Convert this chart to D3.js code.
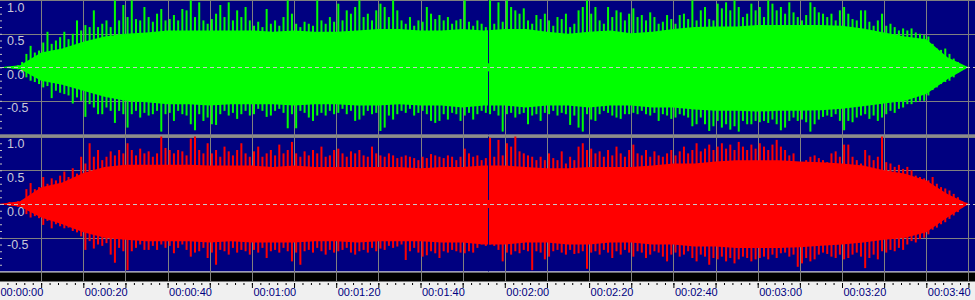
<!DOCTYPE html>
<html>
<head>
<meta charset="utf-8">
<script src="https://cdn.jsdelivr.net/npm/d3@7"></script>
<style>
  body { margin: 0; background: #f0f0f0; }
  svg { display: block; }
</style>
</head>
<body>
<div id="wave"></div>
<script>
// peak level per second (t = 0..230)
const leftPeakHi = [
  0, 0, 0, 0.02, 0.03, 0.08, 0.2, 0.32, 0.22, 0.25,
  0.37, 0.53, 0.35, 0.4, 0.45, 0.53, 0.42, 0.5, 0.7, 0.55,
  0.63, 0.6, 0.85, 0.6, 0.65, 0.7, 0.6, 1.0, 0.7, 0.93,
  0.75, 1.0, 0.72, 0.7, 0.9, 0.75, 0.68, 0.8, 0.87, 0.7,
  0.72, 0.78, 0.7, 0.87, 0.85, 1.0, 0.75, 0.97, 0.7, 0.65,
  0.72, 0.8, 0.93, 0.75, 0.97, 0.7, 0.85, 0.75, 0.9, 0.7,
  0.62, 0.68, 0.6, 0.87, 0.65, 0.7, 0.62, 0.75, 1.0, 0.8,
  0.65, 0.6, 0.68, 0.65, 0.62, 1.0, 0.7, 0.65, 0.75, 0.68,
  0.95, 0.7, 0.85, 0.8, 0.9, 1.0, 0.75, 0.8, 0.7, 0.85,
  0.95, 0.9, 0.75, 1.0, 0.85, 0.7, 0.65, 0.75, 0.62, 0.7,
  0.68, 0.9, 0.8, 0.72, 0.78, 0.7, 0.75, 0.65, 0.7, 0.72,
  1.0, 0.68, 0.62, 0.7, 0.65, 0.6, 1.0, 0.65, 0.97, 0.68,
  1.0, 0.9, 0.85, 0.8, 0.88, 0.7, 0.65, 0.78, 0.72, 0.8,
  0.7, 0.62, 0.75, 0.72, 0.8, 0.6, 0.65, 0.85, 0.9, 1.0,
  0.8, 0.9, 0.7, 0.65, 0.9, 0.75, 0.85, 0.82, 0.7, 0.8,
  0.88, 0.75, 0.78, 0.7, 0.82, 0.75, 0.65, 0.68, 0.78, 0.72,
  0.65, 0.78, 0.8, 0.72, 1.0, 0.7, 0.85, 0.9, 0.72, 0.7,
  0.95, 0.88, 0.97, 0.85, 1.0, 0.9, 0.75, 0.8, 0.95, 0.85,
  0.9, 0.75, 1.0, 0.95, 0.85, 0.9, 0.8, 0.97, 0.82, 0.75,
  0.7, 0.78, 0.97, 0.9, 0.82, 0.8, 0.75, 0.8, 0.7, 0.85,
  0.9, 0.8, 0.72, 0.7, 0.85, 0.85, 0.68, 0.62, 0.7, 0.8,
  0.62, 0.65, 0.6, 0.55, 0.58, 0.55, 0.58, 0.52, 0.5, 0.48,
  0.46, 0.35, 0.28, 0.26, 0.28, 0.2, 0.13, 0.08, 0.03, 0.01,
  0
];
const leftPeakLo = [
  0, 0, 0, -0.02, -0.03, -0.08, -0.15, -0.2, -0.22, -0.25,
  -0.3, -0.28, -0.46, -0.35, -0.38, -0.4, -0.42, -0.54, -0.45, -0.5,
  -0.74, -0.55, -0.6, -0.7, -0.7, -0.6, -0.65, -0.83, -0.65, -0.7,
  -0.9, -0.7, -0.65, -0.75, -0.68, -0.72, -0.7, -0.65, -0.96, -0.7,
  -0.68, -0.8, -0.65, -0.7, -0.72, -0.85, -0.94, -0.7, -0.8, -0.75,
  -0.85, -0.86, -0.7, -0.65, -0.72, -0.68, -0.77, -0.7, -0.65, -0.72,
  -0.7, -0.62, -0.65, -0.74, -0.72, -0.65, -0.62, -0.68, -0.91, -0.7,
  -0.91, -0.65, -0.68, -0.75, -0.8, -0.72, -0.68, -0.72, -0.65, -0.7,
  -0.68, -0.62, -0.7, -0.65, -0.8, -0.78, -0.72, -0.65, -0.7, -0.68,
  -0.95, -0.9, -0.72, -0.78, -0.7, -0.65, -0.68, -0.62, -0.72, -0.68,
  -0.65, -0.7, -0.8, -0.83, -0.8, -0.7, -0.78, -0.68, -0.7, -0.8,
  -0.72, -0.68, -0.78, -0.7, -0.65, -0.68, -0.7, -0.65, -0.72, -0.96,
  -0.7, -0.68, -0.75, -0.7, -0.68, -0.85, -0.72, -0.7, -0.8, -0.68,
  -0.7, -0.65, -0.72, -0.68, -0.7, -0.86, -0.72, -0.9, -0.96, -0.7,
  -0.78, -0.8, -0.7, -0.65, -0.68, -0.72, -0.75, -0.77, -0.7, -0.7,
  -0.68, -0.7, -0.65, -0.7, -0.72, -0.68, -0.8, -0.7, -0.72, -0.77,
  -0.75, -0.7, -0.72, -0.75, -0.88, -0.85, -0.75, -0.85, -0.95, -0.88,
  -0.8, -0.9, -0.85, -0.93, -0.88, -0.96, -0.8, -0.85, -0.85, -0.8,
  -0.82, -0.8, -0.83, -0.78, -0.85, -0.94, -0.9, -0.8, -0.75, -0.8,
  -0.78, -0.82, -0.96, -0.85, -0.78, -0.74, -0.72, -0.74, -0.7, -0.8,
  -0.94, -0.8, -0.82, -0.75, -0.72, -0.7, -0.77, -0.72, -0.8, -0.75,
  -0.7, -0.65, -0.68, -0.62, -0.6, -0.55, -0.55, -0.52, -0.5, -0.5,
  -0.42, -0.34, -0.3, -0.25, -0.22, -0.2, -0.15, -0.08, -0.03, -0.01,
  0
];
const rightPeakHi = [
  0, 0, 0.03, 0.03, 0.04, 0.05, 0.22, 0.31, 0.22, 0.25,
  0.4, 0.3, 0.38, 0.35, 0.42, 0.48, 0.4, 0.53, 0.45, 0.7,
  0.6, 0.9, 0.7, 0.8, 0.65, 0.7, 0.78, 0.72, 0.8, 0.75,
  0.9, 0.8, 0.72, 0.82, 0.75, 0.78, 0.7, 0.75, 1.0, 0.83,
  0.8, 0.75, 0.8, 0.78, 0.72, 0.97, 1.0, 0.8, 0.75, 0.9,
  0.75, 0.8, 0.7, 0.85, 0.78, 0.72, 0.8, 0.9, 0.75, 0.7,
  0.78, 0.85, 0.7, 0.75, 0.8, 0.72, 0.88, 0.75, 0.8, 0.92,
  0.75, 0.7, 0.78, 0.72, 0.8, 0.75, 0.85, 0.7, 0.72, 0.8,
  0.82, 0.75, 0.7, 0.78, 0.75, 0.8, 0.72, 0.7, 0.85, 0.75,
  0.72, 0.7, 0.75, 0.72, 0.68, 0.7, 0.72, 0.7, 0.68, 0.65,
  0.7, 0.68, 0.74, 0.72, 0.7, 0.68, 0.72, 0.7, 0.65, 0.7,
  0.82, 0.75, 0.7, 0.72, 0.65, 0.68, 0.98, 0.7, 0.95, 0.72,
  0.9, 0.85, 1.0, 0.78, 0.75, 0.72, 0.7, 0.65, 0.7, 0.65,
  0.75, 0.68, 0.65, 0.78, 0.6, 0.7, 0.65, 0.85, 0.9, 0.8,
  0.82, 0.75, 0.78, 0.7, 0.8, 0.72, 0.85, 0.75, 0.7, 0.8,
  0.88, 0.75, 0.72, 0.8, 0.7, 0.78, 0.72, 0.7, 0.75, 0.8,
  0.72, 0.78, 0.85, 0.75, 0.8, 0.9, 0.78, 0.82, 0.88, 0.8,
  0.85, 0.9, 0.82, 0.88, 0.8, 0.92, 0.85, 0.8, 0.88, 0.82,
  0.9, 0.85, 0.8, 0.88, 0.95, 0.85, 0.8, 0.72, 0.75, 0.6,
  0.62, 0.65, 0.7, 0.72, 0.68, 0.65, 0.62, 0.75, 0.78, 0.7,
  0.88, 0.88, 0.7, 0.65, 0.6, 0.8, 0.72, 0.65, 0.7, 1.0,
  0.62, 0.6, 0.55, 0.58, 0.52, 0.55, 0.5, 0.42, 0.4, 0.38,
  0.35, 0.4, 0.3, 0.25, 0.23, 0.2, 0.15, 0.1, 0.04, 0.02,
  0
];
const rightPeakLo = [
  0, 0, -0.03, -0.03, -0.04, -0.05, -0.15, -0.2, -0.18, -0.21,
  -0.31, -0.25, -0.36, -0.3, -0.33, -0.36, -0.35, -0.4, -0.42, -0.48,
  -0.68, -0.55, -0.66, -0.6, -0.62, -0.58, -0.75, -0.87, -0.65, -0.7,
  -0.98, -0.7, -0.65, -0.6, -0.68, -0.68, -0.62, -0.68, -0.6, -0.65,
  -0.62, -0.73, -0.65, -0.6, -0.68, -0.78, -0.72, -0.7, -0.65, -0.8,
  -0.72, -0.9, -0.68, -0.7, -0.75, -0.65, -0.72, -0.68, -0.7, -0.75,
  -0.68, -0.72, -0.65, -0.8, -0.7, -0.68, -0.72, -0.65, -0.7, -0.85,
  -0.72, -0.9, -0.7, -0.68, -0.72, -0.65, -0.7, -0.75, -0.68, -0.72,
  -0.7, -0.68, -0.65, -0.72, -0.75, -0.7, -0.68, -0.72, -0.65, -0.7,
  -0.66, -0.68, -0.62, -0.65, -0.63, -0.6, -0.83, -0.7, -0.65, -0.72,
  -0.78, -0.76, -0.7, -0.73, -0.8, -0.7, -0.72, -0.68, -0.7, -0.72,
  -0.73, -0.7, -0.72, -0.65, -0.6, -0.62, -0.6, -0.62, -0.68, -0.85,
  -0.72, -0.75, -0.7, -0.73, -0.68, -0.7, -0.98, -0.7, -0.72, -0.82,
  -0.78, -0.7, -0.68, -0.72, -0.75, -0.68, -0.74, -0.73, -0.7, -0.96,
  -0.72, -0.7, -0.75, -0.68, -0.72, -0.8, -0.7, -0.75, -0.68, -0.72,
  -0.78, -0.7, -0.72, -0.8, -0.75, -0.7, -0.72, -0.78, -0.85, -0.75,
  -0.72, -0.78, -0.75, -0.7, -0.8, -0.85, -0.75, -0.78, -0.9, -0.8,
  -0.82, -0.78, -0.85, -0.8, -0.88, -0.82, -0.78, -0.8, -0.85, -0.82,
  -0.8, -0.78, -0.82, -0.75, -0.8, -0.73, -0.72, -0.78, -0.75, -0.93,
  -0.88, -0.8, -0.85, -0.82, -0.75, -0.72, -0.74, -0.78, -0.8, -0.75,
  -0.82, -0.8, -0.75, -0.72, -0.78, -0.95, -0.8, -0.75, -0.82, -0.7,
  -0.72, -0.68, -0.7, -0.65, -0.68, -0.6, -0.55, -0.57, -0.52, -0.5,
  -0.45, -0.38, -0.35, -0.3, -0.27, -0.22, -0.17, -0.12, -0.05, -0.02,
  0
];

// dense body of the waveform, every 5 seconds (t = 0, 5, ... 230)
const bodyTimes = d3.range(0, 231, 5);
const leftBodyHi = [0, 0.03, 0.22, 0.28, 0.38, 0.46, 0.5, 0.52, 0.55, 0.55, 0.55, 0.55, 0.55, 0.53, 0.55, 0.53, 0.53, 0.55, 0.57, 0.57, 0.55, 0.55, 0.57, 0.55, 0.57, 0.57, 0.53, 0.5, 0.53, 0.55, 0.51, 0.53, 0.57, 0.6, 0.61, 0.61, 0.63, 0.63, 0.63, 0.63, 0.62, 0.58, 0.52, 0.46, 0.42, 0.15, 0];
const leftBodyLo = [0, -0.03, -0.2, -0.26, -0.35, -0.44, -0.5, -0.52, -0.55, -0.55, -0.57, -0.55, -0.55, -0.55, -0.57, -0.55, -0.55, -0.57, -0.57, -0.55, -0.57, -0.57, -0.6, -0.57, -0.57, -0.6, -0.57, -0.57, -0.6, -0.57, -0.57, -0.6, -0.6, -0.63, -0.65, -0.65, -0.66, -0.65, -0.65, -0.64, -0.62, -0.58, -0.54, -0.5, -0.4, -0.18, 0];
const rightBodyHi = [0, 0.04, 0.25, 0.32, 0.46, 0.55, 0.58, 0.58, 0.58, 0.58, 0.57, 0.57, 0.57, 0.55, 0.57, 0.55, 0.55, 0.55, 0.55, 0.55, 0.53, 0.55, 0.55, 0.57, 0.57, 0.55, 0.53, 0.53, 0.55, 0.55, 0.55, 0.57, 0.6, 0.6, 0.63, 0.65, 0.65, 0.65, 0.63, 0.62, 0.6, 0.57, 0.5, 0.45, 0.35, 0.15, 0];
const rightBodyLo = [0, -0.04, -0.2, -0.3, -0.42, -0.5, -0.53, -0.55, -0.55, -0.55, -0.57, -0.55, -0.57, -0.57, -0.57, -0.55, -0.55, -0.57, -0.55, -0.55, -0.55, -0.57, -0.57, -0.6, -0.6, -0.57, -0.57, -0.6, -0.6, -0.57, -0.57, -0.6, -0.6, -0.63, -0.63, -0.65, -0.65, -0.65, -0.64, -0.62, -0.6, -0.57, -0.53, -0.5, -0.42, -0.2, 0];

// a single near-silent column in both channels
const dropouts = [{t: 116.1, amp: 0.06}];

const yTickLabels = [1.0, 0.5, 0.0, -0.5];
const timeLabels = d3.range(0, 221, 20);

const width = 975, height = 300;
const navy = "#000080", grid = "#808080";

const x = d3.scaleLinear().domain([0, 230]).range([-1, 968.45]);

const channels = [
  {y: d3.scaleLinear([-1, 1], [134.3, 0.3]), color: "#00ff00",
   hi: leftPeakHi, lo: leftPeakLo, bodyHi: leftBodyHi, bodyLo: leftBodyLo},
  {y: d3.scaleLinear([-1, 1], [271.5, 136.5]), color: "#ff0000",
   hi: rightPeakHi, lo: rightPeakLo, bodyHi: rightBodyHi, bodyLo: rightBodyLo}
];

const fmtTime = t => [Math.floor(t / 3600), Math.floor(t / 60) % 60, t % 60]
  .map(d => String(d).padStart(2, "0")).join(":");

const svg = d3.select("#wave").append("svg")
  .attr("width", width).attr("height", height)
  .style("font-family", "'Liberation Sans Narrow', 'Arial Narrow', 'Liberation Sans', sans-serif");

svg.append("rect").attr("width", width).attr("height", height).attr("fill", "#f0f0f0");
svg.append("rect").attr("width", width).attr("height", 271.5).attr("fill", navy);
svg.append("rect").attr("y", 134.3).attr("width", width).attr("height", 3).attr("fill", "#8c8c8c");
svg.append("rect").attr("y", 271.5).attr("width", width).attr("height", 1).attr("fill", "#c0c0c0");
svg.append("rect").attr("y", 272.5).attr("width", width).attr("height", 9).attr("fill", "#000");

// vertical grid every 10 s
svg.append("g").selectAll("line").data(d3.range(0, 231, 10)).join("line")
  .attr("x1", d => Math.round(x(d)) + 0.5).attr("x2", d => Math.round(x(d)) + 0.5)
  .attr("y1", 0).attr("y2", 281.5)
  .attr("stroke", grid);

channels.forEach(ch => {
  const g = svg.append("g");

  g.selectAll(".hgrid").data([1, 0.5, -0.5]).join("line")
    .attr("x1", 0).attr("x2", width)
    .attr("y1", d => Math.round(ch.y(d)) + 0.5).attr("y2", d => Math.round(ch.y(d)) + 0.5)
    .attr("stroke", grid);

  const body = bodyTimes.map((t, i) => ({t, hi: ch.bodyHi[i], lo: ch.bodyLo[i]}));
  g.append("path")
    .datum(body)
    .attr("fill", ch.color)
    .attr("d", d3.area().x(d => x(d.t)).y0(d => ch.y(d.lo)).y1(d => ch.y(d.hi)));

  const peaks = ch.hi.map((v, i) => ({t: i + 0.5, hi: v, lo: ch.lo[i]}));
  g.append("g").selectAll("line").data(peaks.filter(d => d.hi - d.lo > 0)).join("line")
    .attr("x1", d => x(d.t)).attr("x2", d => x(d.t))
    .attr("y1", d => ch.y(d.lo)).attr("y2", d => ch.y(d.hi))
    .attr("stroke", ch.color)
    .attr("stroke-width", 2);

  dropouts.forEach(d => {
    const px = Math.round(x(d.t));
    g.append("rect").attr("x", px).attr("width", 1)
      .attr("y", ch.y(1)).attr("height", ch.y(d.amp) - ch.y(1)).attr("fill", navy);
    g.append("rect").attr("x", px).attr("width", 1)
      .attr("y", ch.y(-d.amp)).attr("height", ch.y(-1) - ch.y(-d.amp)).attr("fill", navy);
  });

  g.append("line")
    .attr("x1", 0).attr("x2", width)
    .attr("y1", Math.round(ch.y(0)) + 0.5).attr("y2", Math.round(ch.y(0)) + 0.5)
    .attr("stroke", "#c8c8c8").attr("stroke-dasharray", "4,3");

  // small ticks at the left edge
  g.append("g")
    .call(d3.axisRight(ch.y).tickValues(d3.range(-0.9, 1.0, 0.1)).tickSize(2).tickFormat(""))
    .call(a => a.select(".domain").remove())
    .call(a => a.selectAll("line").attr("stroke", "#c0c0c0"));

  g.selectAll(".ylab").data(yTickLabels).join("text")
    .attr("x", 7).attr("y", d => ch.y(d) + 11.5)
    .attr("fill", "#c8c8d8")
    .style("font-size", "12.5px")
    .text(d => d.toFixed(1));
});

// time ruler
const ruler = svg.append("g").attr("transform", "translate(0,283)");
ruler.append("g")
  .call(d3.axisBottom(x).tickValues(d3.range(0, 232, 2)).tickSize(2).tickFormat(""))
  .call(a => a.select(".domain").remove())
  .call(a => a.selectAll("line").attr("stroke", "#000"));
ruler.append("g")
  .call(d3.axisBottom(x).tickValues(d3.range(0, 231, 10)).tickSize(5).tickFormat(""))
  .call(a => a.select(".domain").remove())
  .call(a => a.selectAll("line").attr("stroke", "#000"));

svg.append("g").selectAll("text").data(timeLabels).join("text")
  .attr("x", d => x(d) + 1.5).attr("y", 296.3)
  .attr("fill", "#000080")
  .style("font-size", "11px")
  .text(fmtTime);
</script>
</body>
</html>
